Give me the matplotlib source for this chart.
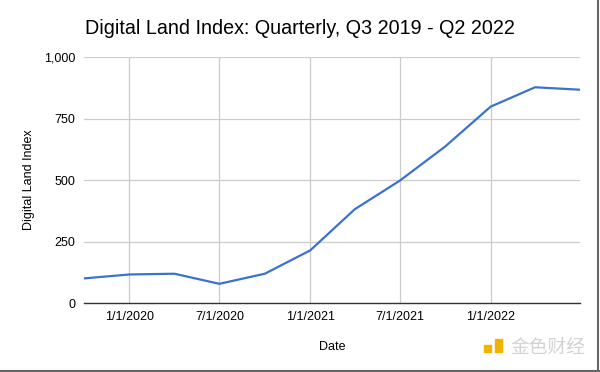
import matplotlib
matplotlib.use("Agg")
import matplotlib.pyplot as plt
from matplotlib.patches import Rectangle
from matplotlib.lines import Line2D
import datetime as dt

dates = ["2019-10-01", "2020-01-01", "2020-04-01", "2020-07-01", "2020-10-01", "2021-01-01",
         "2021-04-01", "2021-07-01", "2021-10-01", "2022-01-01", "2022-04-01", "2022-07-01"]
values = [100, 116, 119, 78, 119, 214, 381, 497, 636, 798, 877, 867]
tick_dates = ["2020-01-01", "2020-07-01", "2021-01-01", "2021-07-01", "2022-01-01"]
tick_labels = ["1/1/2020", "7/1/2020", "1/1/2021", "7/1/2021", "1/1/2022"]
y_ticks = [0, 250, 500, 750, 1000]
y_labels = ["0", "250", "500", "750", "1,000"]

plt.rcParams['font.family'] = ['Liberation Sans', 'DejaVu Sans']

fig = plt.figure(figsize=(6.0, 3.72), dpi=100)
ax = fig.add_axes([84/600, 1-303/372, (580-84)/600, (303-57)/372])

x = [dt.datetime.strptime(d, "%Y-%m-%d") for d in dates]
ax.plot(x, values, color='#3b72cf', lw=1.6, solid_joinstyle='round', zorder=3)

ax.set_xlim(x[0], x[-1])
ax.set_ylim(0, 1000)
ax.set_xticks([dt.datetime.strptime(d, "%Y-%m-%d") for d in tick_dates])
ax.set_xticklabels(tick_labels, fontsize=9)
ax.set_yticks(y_ticks)
ax.set_yticklabels(y_labels, fontsize=9)
ax.tick_params(length=0, pad=6)
ax.grid(True, color='#cccccc', lw=0.9)
for s in ['top', 'right', 'left']:
    ax.spines[s].set_visible(False)
ax.spines['bottom'].set_color('#333333')
ax.spines['bottom'].set_linewidth(1.0)
ax.set_axisbelow(True)

ax.set_xlabel("Date", fontsize=9, labelpad=13)
ax.set_ylabel("Digital Land Index", fontsize=9, labelpad=7)

fig.text(0.5, 1-28/372, "Digital Land Index: Quarterly, Q3 2019 - Q2 2022",
         ha='center', va='center', fontsize=14.2, color='#000000')

# watermark
fig.patches.append(Rectangle((484/600, 1-352/372), 7/600, 7/372, transform=fig.transFigure,
                             color='#f2b300', zorder=5))
fig.patches.append(Rectangle((495/600, 1-352/372), 7/600, 13/372, transform=fig.transFigure,
                             color='#f2b300', zorder=5))
fig.text(510/600, 1-347/372, "金色财经", family=['Noto Sans CJK SC', 'DejaVu Sans'],
         fontsize=13.5, color='#d2d2d2', ha='left', va='center')

# frame
fig.add_artist(Line2D([0, 1], [0.004, 0.004], transform=fig.transFigure, color='#666666', lw=1.5))
fig.add_artist(Line2D([0.996, 0.996], [0, 1], transform=fig.transFigure, color='#666666', lw=1.5))

fig.savefig("out.png", dpi=100)
